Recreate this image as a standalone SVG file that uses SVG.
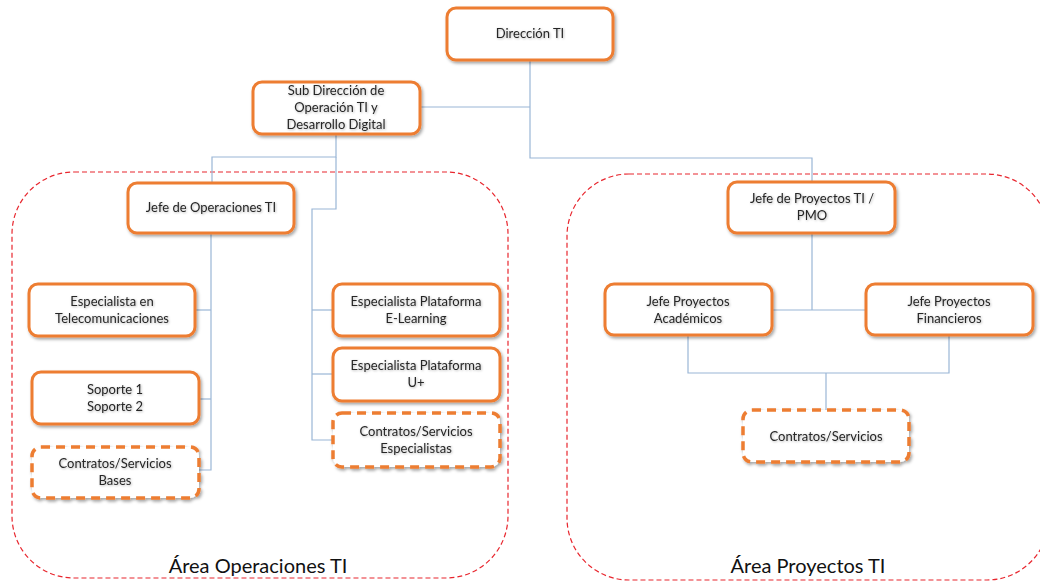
<svg xmlns="http://www.w3.org/2000/svg" width="1040" height="582" viewBox="0 0 1040 582">
<defs>
<filter id="sh" x="-10%" y="-20%" width="130%" height="150%">
<feDropShadow dx="1.5" dy="2" stdDeviation="1.5" flood-color="#000" flood-opacity="0.35"/>
</filter>
<filter id="tsh" x="-5%" y="-20%" width="110%" height="150%">
<feDropShadow dx="0.8" dy="0.8" stdDeviation="0.8" flood-color="#000" flood-opacity="0.3"/>
</filter>
<style>
.box{fill:#fff;stroke:#ED7D31;stroke-width:3;filter:url(#sh)}
.dbox{fill:#fff;stroke:#ED7D31;stroke-width:3.5;stroke-dasharray:9 6;filter:url(#sh)}
.t{font-family:Lato,"Liberation Sans",sans-serif;font-size:13px;fill:#262626;text-anchor:middle;filter:url(#tsh)}
.area{fill:none;stroke:#E8262E;stroke-width:1.2;stroke-dasharray:5 3}
.al{font-family:Lato,"Liberation Sans",sans-serif;font-size:20px;fill:#111;text-anchor:middle}
.c{fill:none;stroke:#9AB6D6;stroke-width:1.2}
</style>
</defs>
<rect width="1040" height="582" fill="#fff"/>
<g id="areas">
<rect class="area" x="12" y="172" width="496" height="406" rx="62"/>
<rect class="area" x="567" y="174" width="482" height="406" rx="62"/>
<text class="al" x="258" y="573">Área Operaciones TI</text>
<text class="al" x="808" y="573">Área Proyectos TI</text>
</g>
<g id="connectors">
<path class="c" d="M530,60 V158 H812 V182"/>
<path class="c" d="M420,107 H530"/>
<path class="c" d="M336,134 V157 H212 V183"/>
<path class="c" d="M336,157 V209 H312 V440 H333"/>
<path class="c" d="M312,310 H333"/>
<path class="c" d="M312,374 H333"/>
<path class="c" d="M211,233 V470 H199"/>
<path class="c" d="M211,310 H195"/>
<path class="c" d="M211,399 H199"/>
<path class="c" d="M812,233 V310 M773,310 H866"/>
<path class="c" d="M688,335 V373 H949 V335"/>
<path class="c" d="M826,373 V410"/>
</g>
<g id="direccion">
<rect class="box" x="447" y="8" width="166" height="52" rx="9"/>
<text class="t" x="530" y="38">Dirección TI</text>
</g>
<g id="subdireccion">
<rect class="box" x="253" y="82" width="167" height="52" rx="9"/>
<text class="t" x="336" y="95">Sub Dirección de</text>
<text class="t" x="336" y="112">Operación TI y</text>
<text class="t" x="336" y="129">Desarrollo Digital</text>
</g>
<g id="jefe-operaciones">
<rect class="box" x="128" y="183" width="166" height="50" rx="9"/>
<text class="t" x="211" y="212">Jefe de Operaciones TI</text>
</g>
<g id="telecom">
<rect class="box" x="29" y="284" width="166" height="52" rx="9"/>
<text class="t" x="112" y="306">Especialista en</text>
<text class="t" x="112" y="323">Telecomunicaciones</text>
</g>
<g id="soporte">
<rect class="box" x="32" y="372" width="167" height="52" rx="9"/>
<text class="t" x="115" y="394">Soporte 1</text>
<text class="t" x="115" y="411">Soporte 2</text>
</g>
<g id="contratos-bases">
<rect class="dbox" x="32" y="447" width="167" height="51" rx="9"/>
<text class="t" x="115" y="468">Contratos/Servicios</text>
<text class="t" x="115" y="485">Bases</text>
</g>
<g id="elearning">
<rect class="box" x="333" y="284" width="167" height="52" rx="9"/>
<text class="t" x="416" y="306">Especialista Plataforma</text>
<text class="t" x="416" y="323">E-Learning</text>
</g>
<g id="uplus">
<rect class="box" x="333" y="348" width="167" height="53" rx="9"/>
<text class="t" x="416" y="370">Especialista Plataforma</text>
<text class="t" x="416" y="387">U+</text>
</g>
<g id="contratos-especialistas">
<rect class="dbox" x="333" y="413" width="167" height="54" rx="9"/>
<text class="t" x="416" y="436">Contratos/Servicios</text>
<text class="t" x="416" y="453">Especialistas</text>
</g>
<g id="jefe-proyectos">
<rect class="box" x="728" y="182" width="167" height="51" rx="9"/>
<text class="t" x="812" y="203">Jefe de Proyectos TI /</text>
<text class="t" x="812" y="220">PMO</text>
</g>
<g id="academicos">
<rect class="box" x="605" y="284" width="167" height="51" rx="9"/>
<text class="t" x="688" y="306">Jefe Proyectos</text>
<text class="t" x="688" y="323">Académicos</text>
</g>
<g id="financieros">
<rect class="box" x="866" y="284" width="167" height="51" rx="9"/>
<text class="t" x="949" y="306">Jefe Proyectos</text>
<text class="t" x="949" y="323">Financieros</text>
</g>
<g id="contratos-proyectos">
<rect class="dbox" x="743" y="410" width="166" height="52" rx="9"/>
<text class="t" x="826" y="441">Contratos/Servicios</text>
</g>
</svg>
